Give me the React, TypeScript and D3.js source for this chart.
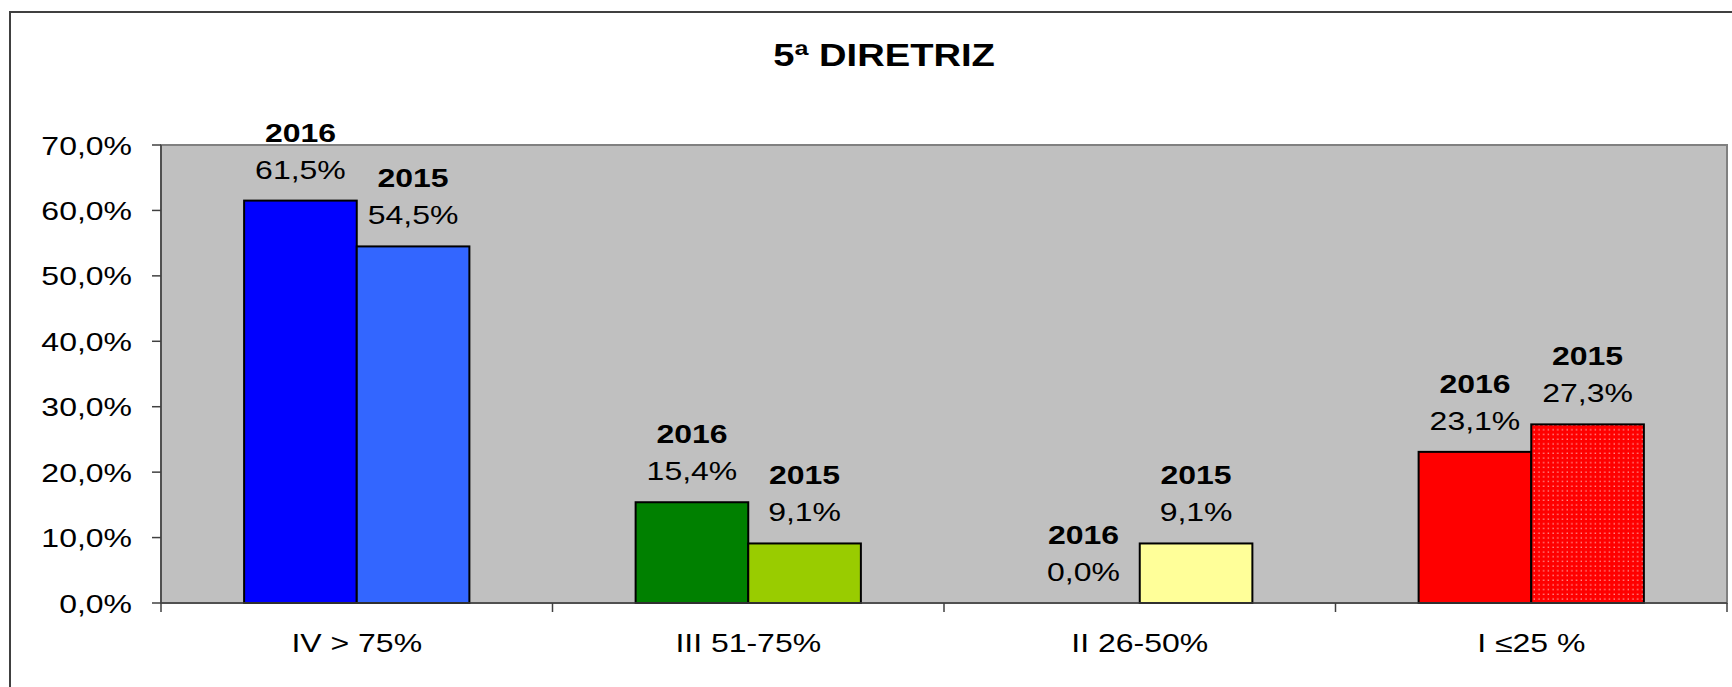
import React from "react";
import * as d3 from "d3";

const categories = ["IV > 75%", "III 51-75%", "II 26-50%", "I ≤25 %"];
const seriesNames = ["2016", "2015"];
const values2016 = [61.5, 15.4, 0.0, 23.1];
const values2015 = [54.5, 9.1, 9.1, 27.3];
const colors2016 = ["#0000FF", "#008000", "#FF0000", "#FF0000"];
const colors2015 = ["#3366FF", "#99CC00", "#FFFF99", "url(#redDots)"];
const yTicks = [0, 10, 20, 30, 40, 50, 60, 70];
const title = "5ª DIRETRIZ";

const W = 1732;
const H = 687;
const M = { left: 161, right: 1727, top: 145, bottom: 603 };
const SX = 1.23; // horizontal text stretch

const locale = d3.formatLocale({ decimal: ",", thousands: ".", grouping: [3], currency: ["R$", ""] });
const fmt = locale.format(".1f");
const pct = (v: number) => fmt(v) + "%";

const FONT = "'Liberation Sans', Arial, sans-serif";

function T({ x, y, children, size = 26, weight = "normal", anchor = "middle", spacing = 0 }: any) {
  return (
    <text
      transform={`translate(${x},${y}) scale(${SX},1)`}
      fontFamily={FONT}
      fontSize={size}
      fontWeight={weight}
      textAnchor={anchor}
      letterSpacing={spacing}
      fill="#000"
    >
      {children}
    </text>
  );
}

export default function App() {
  const x0 = d3.scaleBand<string>().domain(categories).range([M.left, M.right]).padding(0);
  const x1 = d3.scaleBand<string>().domain(seriesNames).range([0, x0.bandwidth()]).paddingInner(0).paddingOuter(0.738);
  const y = d3.scaleLinear().domain([0, 70]).range([M.bottom, M.top]);

  const data = categories.map((c, i) => ({
    cat: c,
    bars: [
      { s: "2016", v: values2016[i], fill: colors2016[i] },
      { s: "2015", v: values2015[i], fill: colors2015[i] },
    ],
  }));

  const boundaries = [...categories.map((c) => x0(c)!), M.right];

  return (
    <svg width={W} height={H} style={{ position: "absolute", left: 0, top: 0, background: "#fff" }}>
      <defs>
        <pattern id="redDots" width={4.7} height={4.7} patternUnits="userSpaceOnUse">
          <rect width={4.7} height={4.7} fill="#FF0000" />
          <rect x={1.5} y={1.5} width={1.2} height={1.2} fill="#FFC8C8" />
        </pattern>
      </defs>
      {/* outer frame */}
      <rect x={10} y={12} width={W + 100} height={H + 100} fill="#fff" stroke="#404040" strokeWidth={2} />
      {/* title */}
      <T x={884} y={66} size={31} weight="bold" spacing={0}>
        {title}
      </T>
      {/* plot area */}
      <rect x={M.left} y={M.top} width={M.right - M.left} height={M.bottom - M.top} fill="#C0C0C0" stroke="#808080" strokeWidth={2} />
      {/* bars */}
      {data.map((g) =>
        g.bars.map((b) => {
          const bx = x0(g.cat)! + x1(b.s)!;
          const by = y(b.v);
          const h = M.bottom - by;
          return h > 0 ? (
            <rect key={g.cat + b.s} x={bx} y={by} width={x1.bandwidth()} height={h} fill={b.fill} stroke="#000" strokeWidth={2} />
          ) : null;
        })
      )}
      {/* axes */}
      <line x1={M.left} x2={M.left} y1={M.top} y2={M.bottom} stroke="#404040" strokeWidth={1.5} />
      <line x1={M.left} x2={M.right} y1={M.bottom} y2={M.bottom} stroke="#404040" strokeWidth={1.5} />
      {yTicks.map((t) => (
        <g key={t}>
          <line x1={M.left - 9} x2={M.left} y1={y(t)} y2={y(t)} stroke="#404040" strokeWidth={1.5} />
          <T x={132} y={y(t) + 9.5} anchor="end">
            {pct(t)}
          </T>
        </g>
      ))}
      {boundaries.map((bx, i) => (
        <line key={i} x1={bx} x2={bx} y1={M.bottom} y2={M.bottom + 9} stroke="#404040" strokeWidth={1.5} />
      ))}
      {categories.map((c) => (
        <T key={c} x={x0(c)! + x0.bandwidth() / 2} y={652}>
          {c}
        </T>
      ))}
      {/* data labels */}
      {data.map((g) =>
        g.bars.map((b) => {
          const cx = x0(g.cat)! + x1(b.s)! + x1.bandwidth() / 2;
          const by = y(b.v);
          return (
            <g key={"l" + g.cat + b.s}>
              <T x={cx} y={by - 59} weight="bold">
                {b.s}
              </T>
              <T x={cx} y={by - 22}>
                {pct(b.v)}
              </T>
            </g>
          );
        })
      )}
    </svg>
  );
}
